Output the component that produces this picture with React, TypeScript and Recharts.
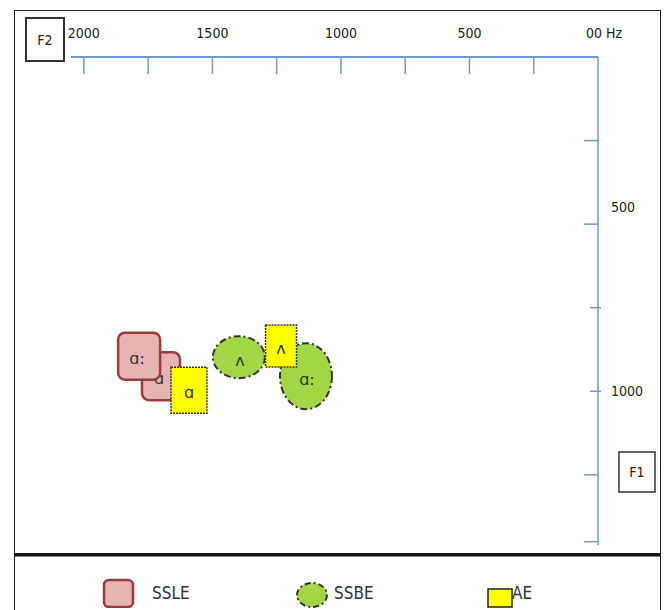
import React from 'react';
import { ScatterChart, Scatter, XAxis, YAxis, Legend, Customized } from 'recharts';

// ---------- data (Hz) ----------
const ssleVowels = ['ɑ', 'ɑ:'];
const ssleF2 = [1700, 1785];
const ssleF1 = [955, 895];

const ssbeVowels = ['ʌ', 'ɑ:'];
const ssbeF2 = [1397, 1136];
const ssbeF1 = [898, 955];

const aeVowels = ['ɑ', 'ʌ'];
const aeF2 = [1591, 1233];
const aeF1 = [997, 865];

const seriesNames = ['SSLE', 'SSBE', 'AE'];

const f2Ticks = [2000, 1750, 1500, 1250, 1000, 750, 500, 250, 0];
const f2TickLabels: Record<number, string> = { 2000: '2000', 1500: '1500', 1000: '1000', 500: '500', 0: '00 Hz' };
const f1Ticks = [250, 500, 750, 1000, 1250, 1450];
const f1TickLabels: Record<number, string> = { 500: '500', 1000: '1000' };

// ---------- styles ----------
const FONT = "'Liberation Sans Narrow', 'DejaVu Sans Condensed', 'Liberation Sans', sans-serif";
const AXIS_COLOR = '#7097cf';
const SSLE_FILL = '#e6b3b3';
const SSLE_STROKE = '#9c3b3b';
const SSBE_FILL = '#a2d645';
const SSBE_STROKE = '#333333';
const AE_FILL = '#ffff00';
const AE_STROKE = '#333333';

const ssleSizes = [[38, 48], [42, 47]];
const ssbeSizes = [[52, 42], [52, 66]];
const aeSizes = [[36, 46], [31, 42]];
const f1TickLens = [14, 14, 8, 8, 14, 14];
const f1LabelDy: Record<number, number> = { 500: -17, 1000: 0 };

const build = (v: string[], f2: number[], f1: number[]) =>
  v.map((vowel, i) => ({ vowel, f2: f2[i], f1: f1[i], i }));

const ssleData = build(ssleVowels, ssleF2, ssleF1);
const ssbeData = build(ssbeVowels, ssbeF2, ssbeF1);
const aeData = build(aeVowels, aeF2, aeF1);

const VowelText = ({ x, y, t }: { x: number; y: number; t: string }) => (
  <text x={x} y={y + 6} textAnchor="middle" fontSize={16} fontFamily="'DejaVu Sans', sans-serif" fill="#333">
    {t}
  </text>
);

const SsleShape = (props: any) => {
  const { cx, cy, payload } = props;
  const [w, h] = ssleSizes[payload.i];
  return (
    <g>
      <rect x={cx - w / 2} y={cy - h / 2} width={w} height={h} rx={7} ry={7} fill={SSLE_FILL} stroke={SSLE_STROKE} strokeWidth={2.5} />
      <VowelText x={cx - 2} y={cy + 2} t={payload.vowel} />
    </g>
  );
};

const SsbeShape = (props: any) => {
  const { cx, cy, payload } = props;
  const [w, h] = ssbeSizes[payload.i];
  return (
    <g>
      <ellipse cx={cx} cy={cy} rx={w / 2} ry={h / 2} fill={SSBE_FILL} stroke={SSBE_STROKE} strokeWidth={2} strokeDasharray="7 3 2 3" />
      <VowelText x={cx + 1} y={cy + 3} t={payload.vowel} />
    </g>
  );
};

const AeShape = (props: any) => {
  const { cx, cy, payload } = props;
  const [w, h] = aeSizes[payload.i];
  return (
    <g>
      <rect x={cx - w / 2} y={cy - h / 2} width={w} height={h} fill={AE_FILL} stroke={AE_STROKE} strokeWidth={1.5} strokeDasharray="2 1" />
      <VowelText x={cx} y={cy + 2} t={payload.vowel} />
    </g>
  );
};

const F2Tick = (props: any) => {
  const { x, y, payload } = props;
  const v = payload.value;
  const label = f2TickLabels[v];
  return (
    <g>
      {v !== 0 && <line x1={x} y1={y} x2={x} y2={y + 17} stroke={AXIS_COLOR} strokeWidth={1.5} />}
      {label && (
        <text x={v === 0 ? x - 12 : x} y={y - 19} textAnchor={v === 0 ? 'start' : 'middle'} fontSize={14} fontFamily={FONT} fill="#222">
          {label}
        </text>
      )}
    </g>
  );
};

const F1Tick = (props: any) => {
  const { x, y, payload, index } = props;
  const v = payload.value;
  const label = f1TickLabels[v];
  const len = f1TickLens[index] ?? 10;
  return (
    <g>
      <line x1={x - len} y1={y} x2={x + (len < 10 ? 3 : 0)} y2={y} stroke={AXIS_COLOR} strokeWidth={1.5} />
      {label && (
        <text x={x + 13} y={y + 5 + (f1LabelDy[v] ?? 0)} textAnchor="start" fontSize={14} fontFamily={FONT} fill="#222">
          {label}
        </text>
      )}
    </g>
  );
};

const Frame = () => (
  <g>
    <rect x={14.5} y={10.5} width={646} height={543} fill="none" stroke="#222" strokeWidth={1} />
    <line x1={14} y1={555} x2={661} y2={555} stroke="#111" strokeWidth={3} />
    <line x1={14.5} y1={555} x2={14.5} y2={610} stroke="#222" strokeWidth={1} />
    <line x1={660.5} y1={555} x2={660.5} y2={610} stroke="#222" strokeWidth={1} />
    <rect x={26} y={18} width={38} height={43} fill="#fff" stroke="#333" strokeWidth={2} />
    <text x={45} y={45} textAnchor="middle" fontSize={14} fontFamily={FONT} fill="#222">F2</text>
    <rect x={619} y={452} width={36} height={40} fill="#fff" stroke="#333" strokeWidth={1.5} />
    <text x={637} y={477} textAnchor="middle" fontSize={14} fontFamily={FONT} fill="#222">F1</text>
  </g>
);

const LegendContent = () => (
  <div style={{ position: 'relative', width: 669, height: 35, fontFamily: FONT, fontSize: 17, color: '#333' }}>
    <svg width={669} height={35} style={{ position: 'absolute', left: 0, top: 0 }}>
      <rect x={104} y={7} width={29} height={27} rx={5} fill={SSLE_FILL} stroke={SSLE_STROKE} strokeWidth={2.5} />
      <text x={152} y={26} fontSize={17} fontFamily={FONT} fill="#333">{seriesNames[0]}</text>
      <ellipse cx={312} cy={22} rx={15} ry={12} fill={SSBE_FILL} stroke={SSBE_STROKE} strokeWidth={2} strokeDasharray="6 3 2 3" />
      <text x={334} y={26} fontSize={17} fontFamily={FONT} fill="#333">{seriesNames[1]}</text>
      <rect x={488} y={16} width={24} height={18} fill={AE_FILL} stroke="#222" strokeWidth={1.5} />
      <text x={512} y={26} fontSize={17} fontFamily={FONT} fill="#333">{seriesNames[2]}</text>
    </svg>
  </div>
);

export default function App() {
  return (
    <div style={{ position: 'absolute', left: 0, top: 0, width: 669, height: 610, background: '#fff' }}>
      <ScatterChart width={669} height={610} margin={{ top: 27, right: 31, bottom: 65, left: 71 }}>
        <Customized component={Frame} />
        <XAxis
          type="number"
          dataKey="f2"
          orientation="top"
          height={30}
          domain={[0, 2050]}
          reversed
          ticks={f2Ticks}
          interval={0}
          tickSize={0}
          tickMargin={0}
          tick={<F2Tick />}
          axisLine={{ stroke: AXIS_COLOR, strokeWidth: 2 }}
          allowDataOverflow
        />
        <YAxis
          type="number"
          dataKey="f1"
          orientation="right"
          width={40}
          domain={[0, 1460]}
          reversed
          ticks={f1Ticks}
          interval={0}
          tickSize={0}
          tickMargin={0}
          tick={<F1Tick />}
          axisLine={{ stroke: AXIS_COLOR, strokeWidth: 1.5 }}
          allowDataOverflow
        />
        <Scatter name={seriesNames[0]} data={ssleData} shape={<SsleShape />} isAnimationActive={false} />
        <Scatter name={seriesNames[1]} data={ssbeData} shape={<SsbeShape />} isAnimationActive={false} />
        <Scatter name={seriesNames[2]} data={aeData} shape={<AeShape />} isAnimationActive={false} />
        <Legend
          layout="horizontal"
          verticalAlign="middle"
          align="center"
          content={<LegendContent />}
          wrapperStyle={{ position: 'absolute', top: 573, left: 0, width: 669, height: 35 }}
        />
      </ScatterChart>
    </div>
  );
}
